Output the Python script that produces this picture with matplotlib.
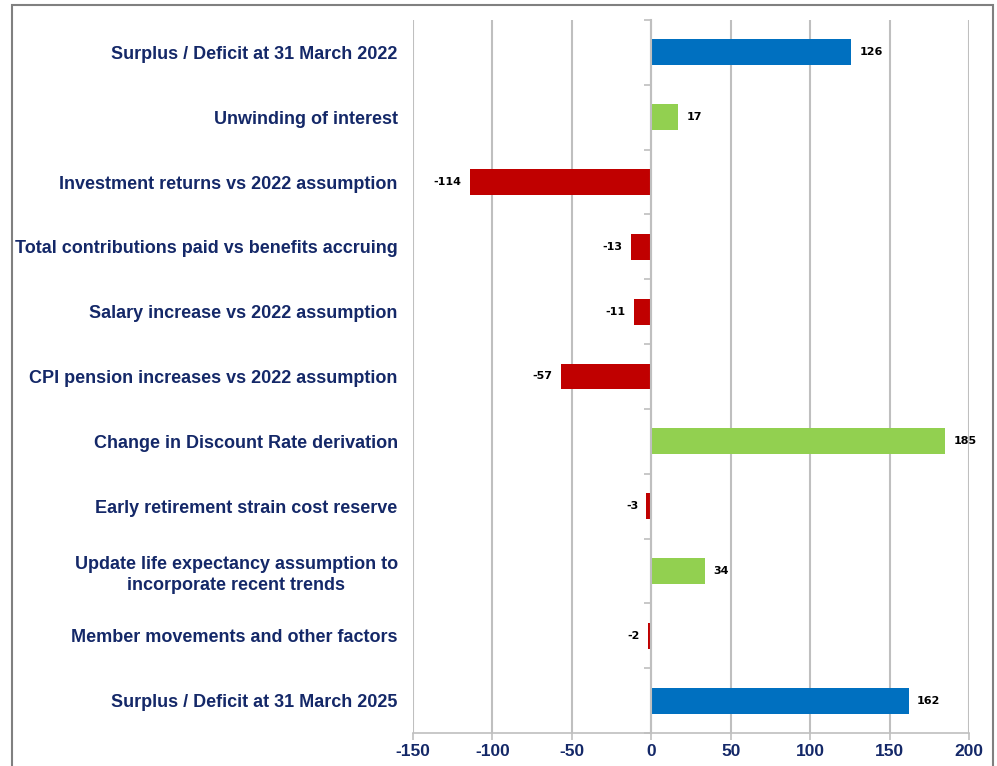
import matplotlib.pyplot as plt
import matplotlib.patches as mpatches
from matplotlib import font_manager

# data
labels = [
    'Surplus / Deficit at 31 March 2022',
    'Unwinding of interest',
    'Investment returns vs 2022 assumption',
    'Total contributions paid vs benefits accruing',
    'Salary increase vs 2022 assumption',
    'CPI pension increases vs 2022 assumption',
    'Change in Discount Rate derivation',
    'Early retirement strain cost reserve',
    'Update life expectancy assumption to\nincorporate recent trends',
    'Member movements and other factors',
    'Surplus / Deficit at 31 March 2025',
]
values = [126, 17, -114, -13, -11, -57, 185, -3, 34, -2, 162]
x_ticks = [-150, -100, -50, 0, 50, 100, 150, 200]

BLUE = '#0070C0'
GREEN = '#92D050'
RED = '#C00000'
NAVY = '#142868'
GRID = '#BFBFBF'

colors = []
for i, v in enumerate(values):
    if i == 0 or i == len(values) - 1:
        colors.append(BLUE)
    elif v >= 0:
        colors.append(GREEN)
    else:
        colors.append(RED)

plt.rcParams['font.family'] = ['Liberation Sans', 'DejaVu Sans']

names = {f.name for f in font_manager.fontManager.ttflist}
narrow = 'Liberation Sans Narrow' if 'Liberation Sans Narrow' in names else 'Liberation Sans'

fig = plt.figure(figsize=(9.97, 7.66), dpi=100)
ax = fig.add_axes([0.4142, 0.0431, 0.9719 - 0.4142, 0.9739 - 0.0431])

ypos = list(range(len(values)))
ax.barh(ypos, values, height=0.4, color=colors, zorder=3)

ax.set_xlim(x_ticks[0], x_ticks[-1])
ax.set_ylim(len(values) - 0.5, -0.5)
ax.set_xticks(x_ticks)
ax.set_xticklabels([str(t) for t in x_ticks], fontsize=14 if narrow != 'Liberation Sans' else 12.5,
                   fontweight='bold', color=NAVY, family=[narrow, 'DejaVu Sans'])
ax.set_yticks(ypos)
ax.set_yticklabels(labels, fontsize=13, fontweight='bold', color=NAVY,
                   multialignment='center', linespacing=1.3)
ax.tick_params(axis='y', length=0, pad=11)
ax.tick_params(axis='x', length=5, width=1.2, color=GRID, pad=3)

ax.grid(axis='x', color=GRID, linewidth=1.5, zorder=0)
for s in ['top', 'right', 'left']:
    ax.spines[s].set_visible(False)
ax.spines['bottom'].set_color(GRID)
ax.spines['bottom'].set_linewidth(1.2)

# y axis line at zero with tick marks between categories
zero_frac = (0 - x_ticks[0]) / (x_ticks[-1] - x_ticks[0])
sec = ax.secondary_yaxis(zero_frac)
sec.set_yticks([i - 0.5 for i in range(len(values) + 1)])
sec.set_yticklabels([])
sec.spines['left'].set_color(GRID)
sec.spines['left'].set_linewidth(1.5)
sec.tick_params(axis='y', length=5, width=1.2, color=GRID, direction='out')
sec.set_zorder(4)

# value labels
for y, v in zip(ypos, values):
    if v >= 0:
        ax.annotate(str(v), (v, y), xytext=(6, 0), textcoords='offset points',
                    ha='left', va='center', fontsize=8, fontweight='bold',
                    family=['DejaVu Sans'], color='black')
    else:
        ax.annotate(str(v), (v, y), xytext=(-6, 0), textcoords='offset points',
                    ha='right', va='center', fontsize=8, fontweight='bold',
                    family=['DejaVu Sans'], color='black')

# outer frame
frame = mpatches.Rectangle((12 / 997, -0.05), (993 - 12) / 997, 1.05 - 5 / 766,
                           transform=fig.transFigure, fill=False,
                           edgecolor='#808080', linewidth=1.5)
fig.patches.append(frame)

fig.savefig('out.png', dpi=100)
